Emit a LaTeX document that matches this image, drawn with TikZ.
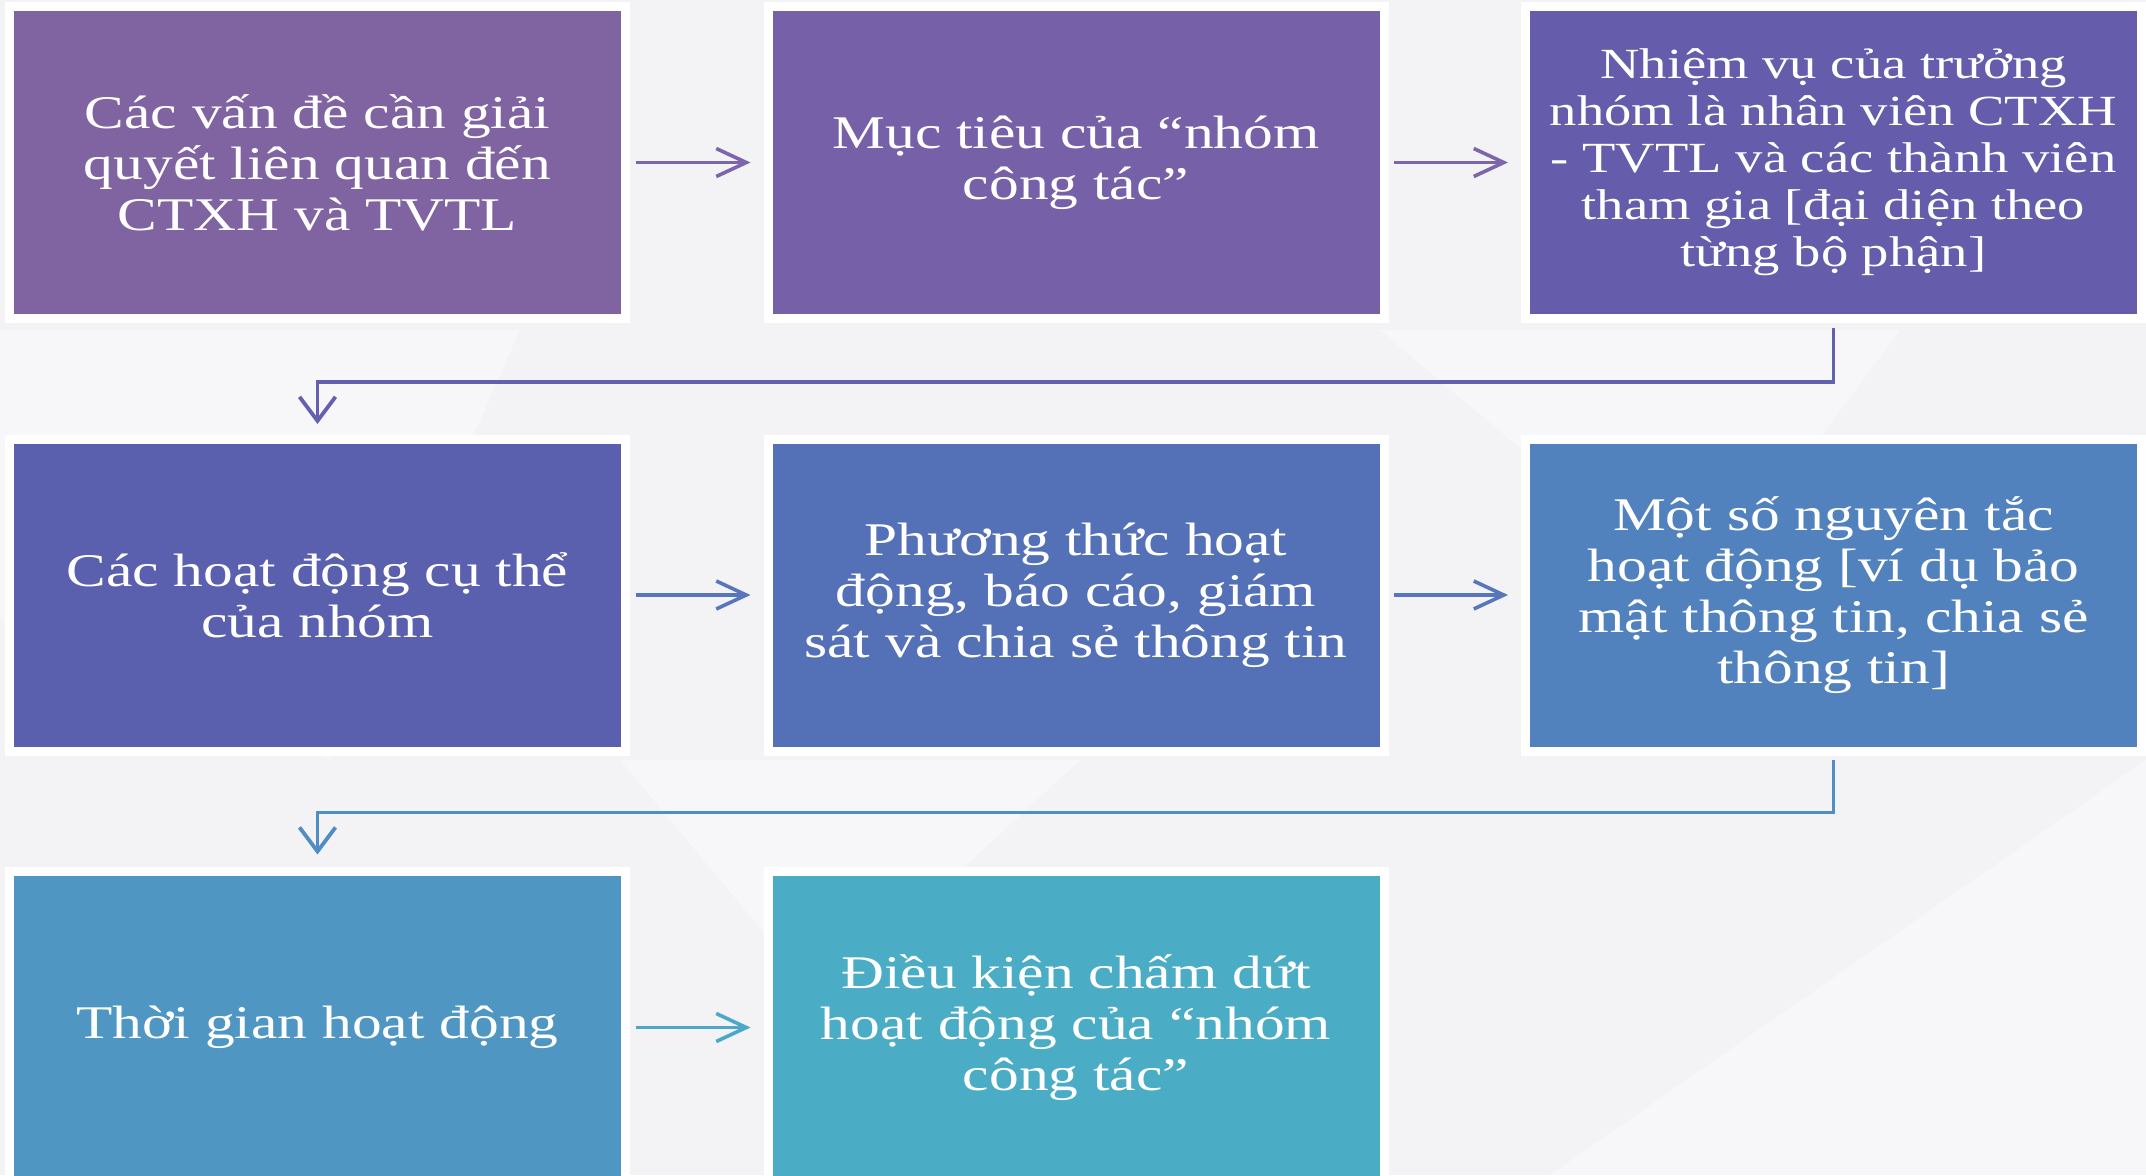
\documentclass[tikz,border=0pt]{standalone}
\usepackage{fontspec}
\setmainfont[FakeStretch=1.27]{Liberation Serif}
\usetikzlibrary{arrows.meta}
\definecolor{bg}{HTML}{F3F3F6}
\definecolor{cA}{HTML}{8064A2}
\definecolor{cB}{HTML}{7661A8}
\definecolor{cC}{HTML}{655DAB}
\definecolor{cD}{HTML}{5A60AE}
\definecolor{cE}{HTML}{5470B7}
\definecolor{cF}{HTML}{5282BE}
\definecolor{cG}{HTML}{4F96C2}
\definecolor{cH}{HTML}{4BACC6}
\definecolor{aA}{HTML}{7D65AC}
\definecolor{aB}{HTML}{6460B0}
\definecolor{aC}{HTML}{5876BC}
\definecolor{aD}{HTML}{4F8DC3}
\definecolor{aE}{HTML}{4BA8C8}
\tikzset{
  box/.style={rectangle, minimum width=616pt, minimum height=312pt, draw=white,
    line width=9pt, text=white, align=center, inner sep=0pt,
    font=\fontsize{46.8}{51}\selectfont},
  smalltext/.style={font=\fontsize{43}{47}\selectfont},
  harrow/.style={line width=3.6pt, shorten <=5.5pt, shorten >=13pt,
    -{Straight Barb[length=30pt,width=28pt]}},
  varrow/.style={line width=3.8pt, -{Straight Barb[length=24pt,width=36pt]}},
  facet/.style={fill=white, opacity=0.35, draw=none},
}
\begin{document}
\begin{tikzpicture}[x=1pt, y=-1pt]
\useasboundingbox (0,0) rectangle (2146,1175);
\clip (0,0) rectangle (2146,1175);
\fill[bg] (0,0) rectangle (2146,1175);
% faint background facets
\fill[facet] (0,330) -- (520,330) -- (330,760) -- (0,620) -- cycle;
\fill[facet] (620,760) -- (1080,760) -- (820,1000) -- cycle;
\fill[facet] (1380,330) -- (1900,330) -- (1700,600) -- cycle;
\fill[facet] (1550,1175) -- (2146,760) -- (2146,1175) -- cycle;
% boxes
\node[box, fill=cA] (b1) at (317.5,162.5) {Các vấn đề cần giải\\quyết liên quan đến\\CTXH và TVTL};
\node[box, fill=cB] (b2) at (1076,162.5) {Mục tiêu của “nhóm\\công tác”};
\node[box, fill=cC, smalltext] (b3) at (1833.5,162.5) {Nhiệm vụ của trưởng\\nhóm là nhân viên CTXH\\- TVTL và các thành viên\\tham gia [đại diện theo\\từng bộ phận]};
\node[box, fill=cD] (b4) at (317.5,595) {Các hoạt động cụ thể\\của nhóm};
\node[box, fill=cE] (b5) at (1076,595) {Phương thức hoạt\\động, báo cáo, giám\\sát và chia sẻ thông tin};
\node[box, fill=cF] (b6) at (1833.5,595) {Một số nguyên tắc\\hoạt động [ví dụ bảo\\mật thông tin, chia sẻ\\thông tin]};
\node[box, fill=cG] (b7) at (317.5,1027.5) {Thời gian hoạt động};
\node[box, fill=cH] (b8) at (1076,1027.5) {Điều kiện chấm dứt\\hoạt động của “nhóm\\công tác”};
% connectors
\draw[harrow, aA] (b1) -- (b2);
\draw[harrow, aA] (b2) -- (b3);
\draw[varrow, aB, shorten <=4.5pt, shorten >=10.5pt] (b3.south) -- ++(0,59) -| (b4.north);
\draw[harrow, aC] (b4) -- (b5);
\draw[harrow, aC] (b5) -- (b6);
\draw[varrow, aD, shorten <=4.5pt, shorten >=12.5pt] (b6.south) -- ++(0,57) -| (b7.north);
\draw[harrow, aE] (b7) -- (b8);
\end{tikzpicture}
\end{document}
